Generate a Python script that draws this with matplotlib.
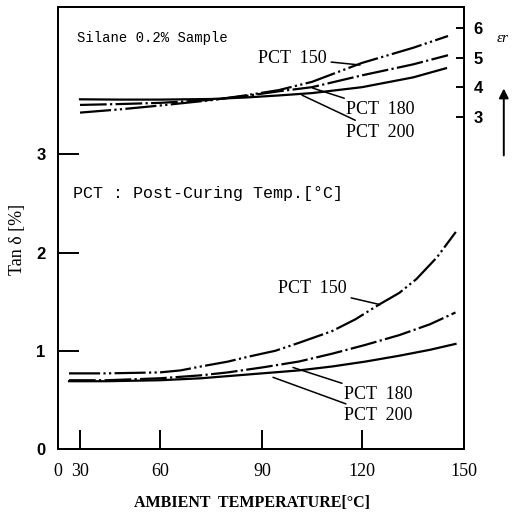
import numpy as np
import matplotlib
matplotlib.use('Agg')
import matplotlib.pyplot as plt

# Broken x axis: the drawing squeezes 0..30 into a short stub
X_MARKS = [0, 30, 60, 90, 120, 150]
X_MARK_POS = [0, 22, 102, 204, 304, 406]

# Tan delta [%] vs ambient temperature (lower curves, left axis)
tan_x_150 = [15, 40, 60, 66, 72, 80, 86, 94, 101, 111, 118, 125, 131, 136, 142, 147.6]
tan_y_150 = [0.77, 0.77, 0.78, 0.80, 0.84, 0.89, 0.94, 1.00, 1.08, 1.20, 1.32, 1.47, 1.59, 1.73, 1.95, 2.21]
tan_x_180 = [15, 40, 60, 72, 80, 90, 101, 111, 121, 131, 140, 147.5]
tan_y_180 = [0.70, 0.70, 0.72, 0.75, 0.78, 0.83, 0.89, 0.97, 1.06, 1.16, 1.27, 1.39]
tan_x_200 = [15, 40, 60, 72, 90, 101, 111, 121, 131, 140, 147.5]
tan_y_200 = [0.69, 0.69, 0.70, 0.72, 0.77, 0.80, 0.84, 0.89, 0.95, 1.01, 1.07]

# Relative permittivity (upper curves, right axis)
er_x_150 = [30, 45, 60, 75, 85, 95, 105, 120, 135, 145.3]
er_y_150 = [3.14, 3.25, 3.38, 3.56, 3.72, 3.90, 4.18, 4.82, 5.33, 5.73]
er_x_180 = [30, 45, 60, 75, 85, 95, 105, 120, 135, 145.3]
er_y_180 = [3.40, 3.43, 3.47, 3.57, 3.70, 3.86, 4.00, 4.40, 4.77, 5.08]
er_x_200 = [30, 45, 60, 75, 85, 95, 105, 120, 135, 144.7]
er_y_200 = [3.59, 3.58, 3.58, 3.60, 3.65, 3.72, 3.80, 4.00, 4.33, 4.64]

x_ticks = [0, 30, 60, 90, 120, 150]
x_tick_labels = ['0', '30', '60', '90', '120', '150']
tan_ticks = [0, 1, 2, 3]
er_ticks = [3, 4, 5, 6]


def fwd(x):
    return np.interp(x, X_MARKS, X_MARK_POS)


def inv(p):
    return np.interp(p, X_MARK_POS, X_MARKS)


plt.rcParams['font.family'] = ['Liberation Serif', 'DejaVu Serif']

fig = plt.figure(figsize=(5.19, 5.13), dpi=100)
ax = fig.add_axes([58 / 519, 64 / 513, 406 / 519, 442 / 513])
ax.set_xscale('function', functions=(fwd, inv))
ax.set_xlim(0, 150)
ax.set_ylim(0, 4.5)
ax2 = ax.twinx()
ax2.set_ylim(-8.23, 6.71)

style_150 = dict(color='black', lw=1.6, dashes=(14, 1.5, 1, 1.5, 1, 1.5))
style_180 = dict(color='black', lw=1.6, dashes=(12, 1.5, 1, 1.5))
style_200 = dict(color='black', lw=1.6)

ax.plot(tan_x_150, tan_y_150, **style_150)
ax.plot(tan_x_180, tan_y_180, **style_180)
ax.plot(tan_x_200, tan_y_200, **style_200)
ax2.plot(er_x_150, er_y_150, **style_150)
ax2.plot(er_x_180, er_y_180, **style_180)
ax2.plot(er_x_200, er_y_200, **style_200)

for s in ax.spines.values():
    s.set_linewidth(1.4)
for s in ax2.spines.values():
    s.set_linewidth(1.4)

ax.set_xticks(x_ticks)
ax.set_xticklabels(x_tick_labels)
ax.set_yticks(tan_ticks)
ax.tick_params(axis='x', direction='in', length=14, width=1.4, pad=10, labelsize=13)
ax.tick_params(axis='y', direction='in', length=15, width=1.4, pad=9, labelsize=12)
for lab in ax.get_yticklabels():
    lab.set_family(['Liberation Sans', 'DejaVu Sans'])
    lab.set_weight('bold')

ax2.set_yticks(er_ticks)
ax2.tick_params(axis='y', direction='in', length=6, width=1.4, pad=7, labelsize=12)
for lab in ax2.get_yticklabels():
    lab.set_family(['Liberation Sans', 'DejaVu Sans'])
    lab.set_weight('bold')

ax.set_xlabel('AMBIENT  TEMPERATURE[°C]', fontsize=11.5, fontweight='bold')
ax.xaxis.set_label_coords(0.478, -0.105)
ax.set_ylabel('Tan δ [%]', fontsize=13)
ax.yaxis.set_label_coords(-0.078, 0.473)

mono = ['Liberation Mono', 'DejaVu Sans Mono']
ax.text(0.047, 0.93, 'Silane 0.2% Sample', transform=ax.transAxes, fontsize=10,
        family=mono, va='center', ha='left')
ax.text(0.037, 0.579, 'PCT : Post-Curing Temp.[°C]', transform=ax.transAxes, fontsize=12,
        family=mono, va='center', ha='left')

# labels with leader lines
lead = dict(arrowstyle='-', color='black', lw=1.1, shrinkA=1, shrinkB=0)
ax2.annotate('PCT  150', xy=(119.4, 4.75), xytext=(109.5, 4.98), fontsize=13,
             ha='right', va='center', arrowprops=lead)
ax2.annotate('PCT  180', xy=(105.2, 3.97), xytext=(115.3, 3.23), fontsize=13,
             ha='left', va='center', arrowprops=lead)
ax2.annotate('PCT  200', xy=(102.0, 3.73), xytext=(115.3, 2.48), fontsize=13,
             ha='left', va='center', arrowprops=lead)
ax.annotate('PCT  150', xy=(125.3, 1.47), xytext=(115.5, 1.63), fontsize=13,
            ha='right', va='center', arrowprops=lead)
ax.annotate('PCT  180', xy=(99.3, 0.83), xytext=(114.6, 0.55), fontsize=13,
            ha='left', va='center', arrowprops=lead)
ax.annotate('PCT  200', xy=(93.3, 0.73), xytext=(114.6, 0.34), fontsize=13,
            ha='left', va='center', arrowprops=lead)

# epsilon_r marker with upward arrow, outside the right spine
ax2.text(1.08, 5.66, 'εr', transform=ax2.get_yaxis_transform(), fontsize=11,
         style='italic', va='center', ha='left')
ax2.annotate('', xy=(1.098, 4.05), xytext=(1.098, 1.6),
             xycoords=ax2.get_yaxis_transform(), textcoords=ax2.get_yaxis_transform(),
             arrowprops=dict(arrowstyle='-|>', color='black', lw=1.4, mutation_scale=14),
             annotation_clip=False)

fig.savefig('out.png', dpi=100)
